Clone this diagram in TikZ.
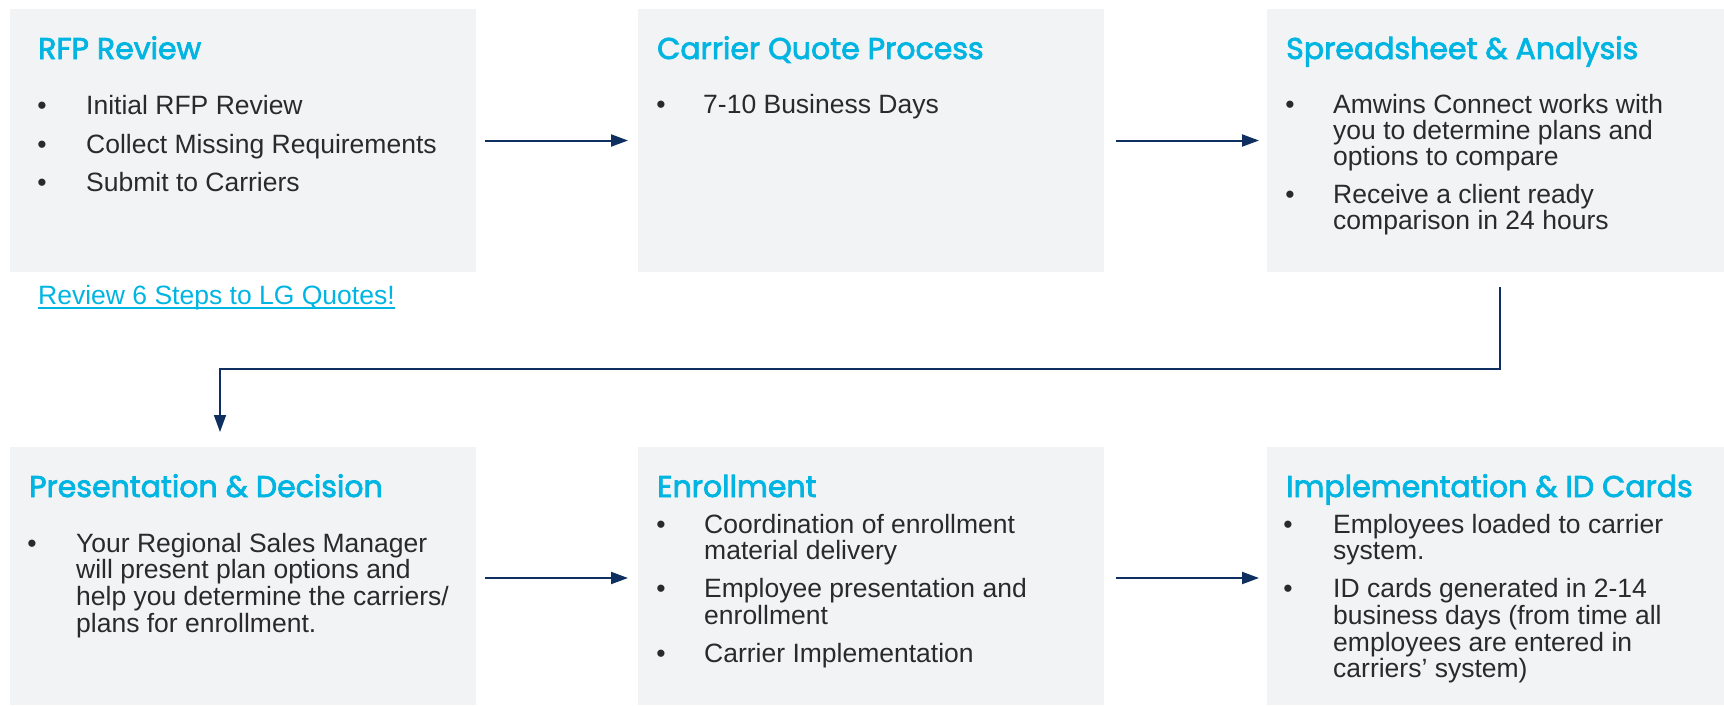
\documentclass[tikz,border=0pt]{standalone}
\usepackage{fontspec}
\setmainfont{Liberation Sans}
\newfontfamily\titlefont{Poppins}[FakeBold=2.5]
\usetikzlibrary{arrows.meta}
\definecolor{boxgray}{HTML}{F2F3F5}
\definecolor{ttlcyan}{HTML}{00B5E2}
\definecolor{bodyink}{HTML}{2A2A2C}
\definecolor{navy}{HTML}{0E2F5F}
\newcommand\myline[4]{\node[txt] (#1) at (#2,#3) {#4};}
\newcommand\mybul[3]{\node[bul] (#1) at (#2,#3) {•};}
\begin{document}
\begin{tikzpicture}[x=1pt,y=-1pt,
  stepbox/.style={fill=boxgray, draw=none, anchor=north west, inner sep=0, outer sep=0},
  ttl/.style={anchor=base west, inner sep=0, text=ttlcyan, font=\titlefont\fontsize{30}{32}\selectfont},
  txt/.style={anchor=base west, inner sep=0, text=bodyink, font=\fontsize{26.5}{28}\selectfont},
  bul/.style={anchor=base, inner sep=0, text=bodyink, font=\fontsize{26.5}{28}\selectfont},
  arr/.style={draw=navy, line width=2pt, -{Triangle[length=17pt,width=12pt]}},
]
\useasboundingbox (0,0) rectangle (1724,705);
\fill[white] (0,0) rectangle (1724,705);

% boxes
\node[stepbox, minimum width=466, minimum height=263] (b1) at (10,9) {};
\node[stepbox, minimum width=466, minimum height=263] (b2) at (638,9) {};
\node[stepbox, minimum width=457, minimum height=263] (b3) at (1267,9) {};
\node[stepbox, minimum width=466, minimum height=258] (b4) at (10,447) {};
\node[stepbox, minimum width=466, minimum height=258] (b5) at (638,447) {};
\node[stepbox, minimum width=457, minimum height=258] (b6) at (1267,447) {};

% titles
\node[ttl] (h1) at (38,59) {RFP Review};
\node[ttl] (h2) at (657,59) {Carrier Quote Process};
\node[ttl] (h3) at (1286,59) {Spreadsheet \& Analysis};
\node[ttl] (h4) at (29,497) {Presentation \& Decision};
\node[ttl] (h5) at (657,497) {Enrollment};
\node[ttl] (h6) at (1286,497) {Implementation \& ID Cards};

% box 1
\mybul{p1a}{42}{114} \myline{l1a}{86}{114}{Initial RFP Review}
\mybul{p1b}{42}{153} \myline{l1b}{86}{153}{Collect Missing Requirements}
\mybul{p1c}{42}{191} \myline{l1c}{86}{191}{Submit to Carriers}

% link
\node[txt, text=ttlcyan] (lnk) at (38,304) {Review 6 Steps to LG Quotes!};
\draw[ttlcyan, line width=1.5pt] ([yshift=-4pt]lnk.base west) -- ([yshift=-4pt]lnk.base east);

% box 2
\mybul{p2a}{661}{113} \myline{l2a}{703}{113}{7-10 Business Days}

% box 3
\mybul{p3a}{1290}{113} \myline{l3a}{1333}{113}{Amwins Connect works with}
\myline{l3b}{1333}{139}{you to determine plans and}
\myline{l3c}{1333}{165}{options to compare}
\mybul{p3b}{1290}{203} \myline{l3d}{1333}{203}{Receive a client ready}
\myline{l3e}{1333}{229}{comparison in 24 hours}

% box 4
\mybul{p4a}{32}{552} \myline{l4a}{76}{552}{Your Regional Sales Manager}
\myline{l4b}{76}{578}{will present plan options and}
\myline{l4c}{76}{605}{help you determine the carriers/}
\myline{l4d}{76}{632}{plans for enrollment.}

% box 5
\mybul{p5a}{661}{533} \myline{l5a}{704}{533}{Coordination of enrollment}
\myline{l5b}{704}{559}{material delivery}
\mybul{p5b}{661}{597} \myline{l5c}{704}{597}{Employee presentation and}
\myline{l5d}{704}{624}{enrollment}
\mybul{p5c}{661}{662} \myline{l5e}{704}{662}{Carrier Implementation}

% box 6
\mybul{p6a}{1288}{533} \myline{l6a}{1333}{533}{Employees loaded to carrier}
\myline{l6b}{1333}{559}{system.}
\mybul{p6b}{1288}{597} \myline{l6c}{1333}{597}{ID cards generated in 2-14}
\myline{l6d}{1333}{624}{business days (from time all}
\myline{l6e}{1333}{651}{employees are entered in}
\myline{l6f}{1333}{677}{carriers’ system)}

% connectors
\draw[arr, shorten <=9pt, shorten >=10pt] (b1.east) -- (b2.west);
\draw[arr, shorten <=12pt, shorten >=8pt] (b2.east) -- (b3.west);
\draw[arr, shorten <=9pt, shorten >=10pt] ([yshift=-2pt]b4.east) -- ([yshift=-2pt]b5.west);
\draw[arr, shorten <=12pt, shorten >=8pt] ([yshift=-2pt]b5.east) -- ([yshift=-2pt]b6.west);
\coordinate (k1) at (1500,287);
\coordinate (k2) at (220,432);
\draw[arr, line width=1.6pt] (k1) -- ++(0,82) -| (k2);
\end{tikzpicture}
\end{document}
